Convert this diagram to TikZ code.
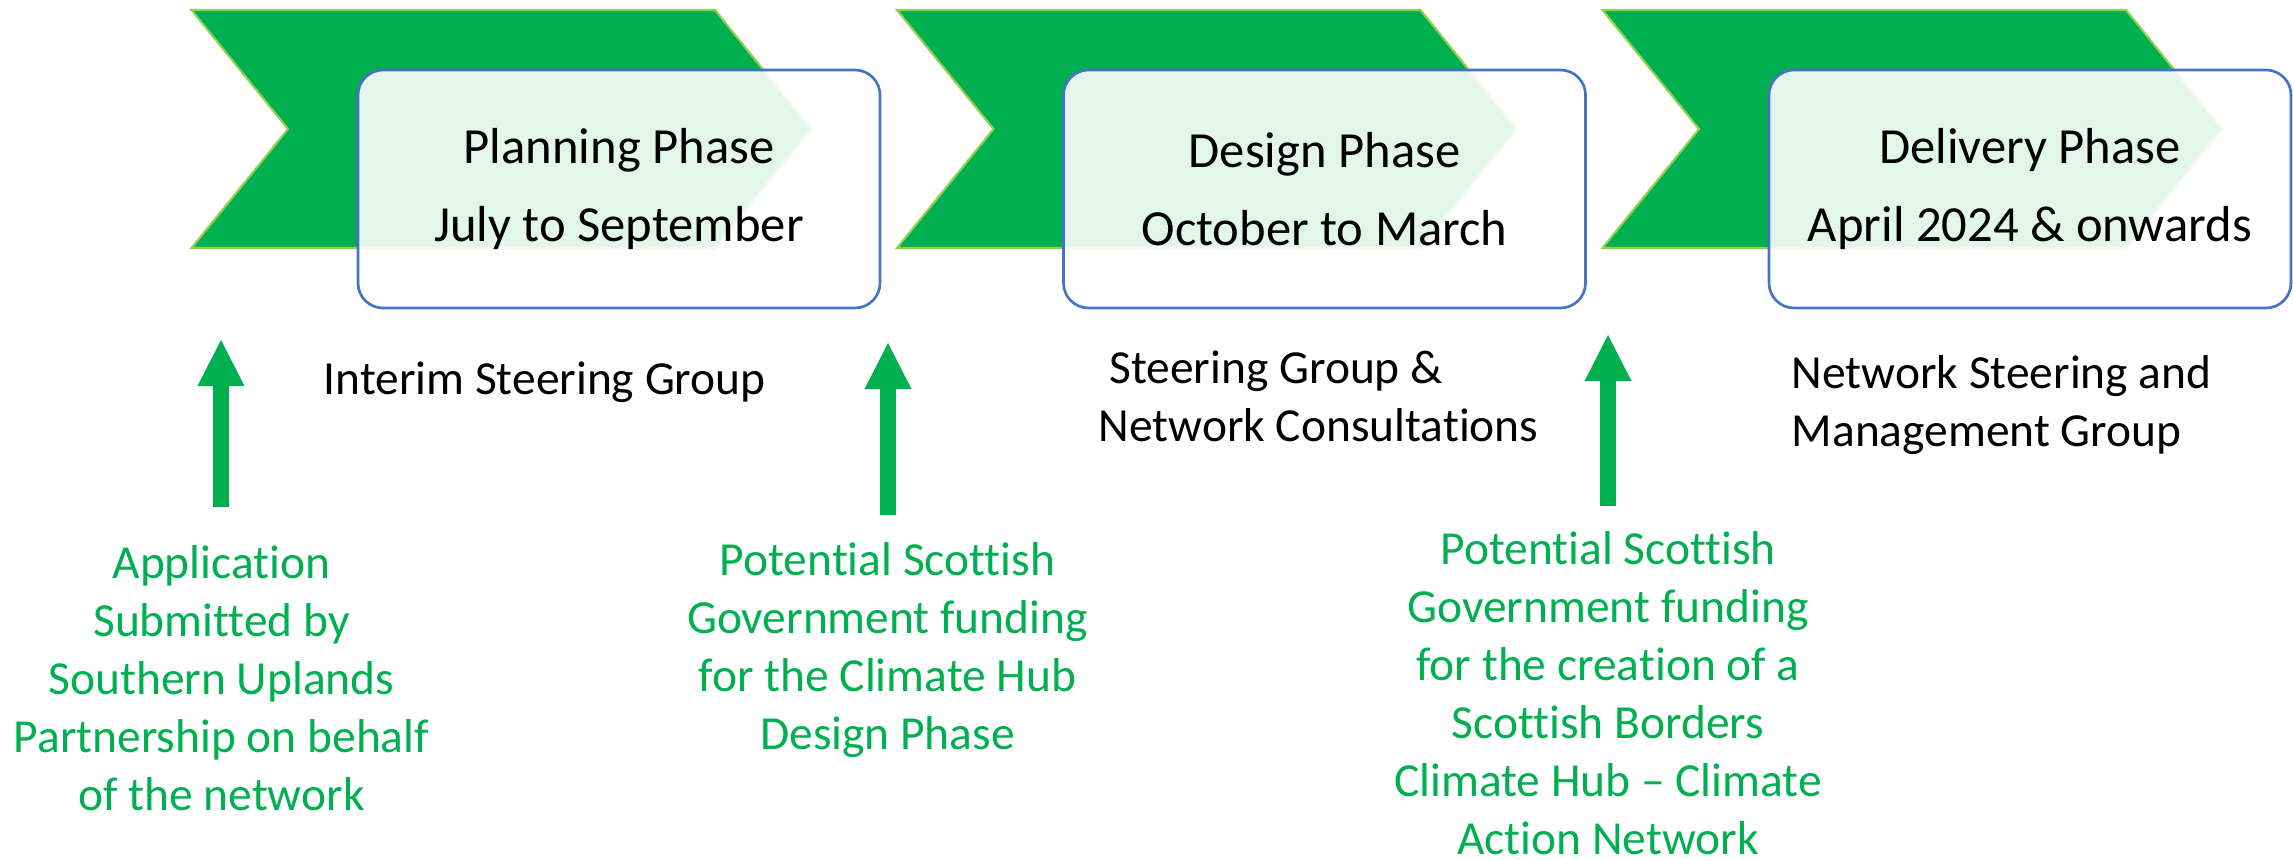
\documentclass[tikz,border=0pt]{standalone}
\usepackage{fontspec}
\setmainfont{Carlito}[Ligatures={TeX,NoCommon}]
\usepackage{xcolor}
\usetikzlibrary{arrows.meta}

\definecolor{phasegreen}{HTML}{00B050}
\definecolor{edgegreen}{HTML}{92D050}
\definecolor{boxblue}{HTML}{4472C4}

\begin{document}
\begin{tikzpicture}[
    chevron/.style={fill=phasegreen, draw=edgegreen, line width=0.6pt},
    phase/.style={rectangle, rounded corners=0.25cm, draw=boxblue, line width=0.75pt, fill=white, fill opacity=0.885, text opacity=1, minimum width=5.22cm, minimum height=2.38cm, align=center, font=\fontsize{14.4}{22}\selectfont},
    group/.style={align=left, inner sep=0pt, font=\fontsize{13.5}{16.5}\selectfont},
    funding/.style={align=center, inner sep=0pt, text=phasegreen, font=\fontsize{13.5}{16.5}\selectfont},
    uparrow/.style={draw=phasegreen, line width=0.16cm, -{Triangle[width=0.47cm, length=0.46cm, line width=0pt]}}
]

\useasboundingbox (0,0) rectangle (22.93,-8.59);

% chevrons behind the boxes
\draw[chevron] (1.915,-0.10) -- ++(5.235,0) -- ++(0.96,-1.19) -- ++(-0.96,-1.19) -- ++(-5.235,0) -- ++(0.965,1.19) -- cycle;
\draw[chevron] (8.970,-0.10) -- ++(5.235,0) -- ++(0.96,-1.19) -- ++(-0.96,-1.19) -- ++(-5.235,0) -- ++(0.965,1.19) -- cycle;
\draw[chevron] (16.025,-0.10) -- ++(5.235,0) -- ++(0.96,-1.19) -- ++(-0.96,-1.19) -- ++(-5.235,0) -- ++(0.965,1.19) -- cycle;

\node[phase] (plan) at (6.19,-1.89) {Planning Phase\\July to September};
\node[phase] (design) at (13.245,-1.89) {Design Phase\\October to March};
\node[phase] (deliver) at (20.30,-1.89) {Delivery Phase\\April 2024 \& onwards};

\node[group, anchor=base west] (interim) at (3.23,-3.94) {Interim Steering Group};
\node[group, anchor=north west] (steering) at (10.98,-3.50) {\ Steering Group \&\\Network Consultations};
\node[group, anchor=north west] (network) at (17.91,-3.55) {Network Steering and\\Management Group};

\node[funding, anchor=north] (apply) at (2.215,-5.45) {Application\\Submitted by\\Southern Uplands\\Partnership on behalf\\of the network};
\node[funding, anchor=north] (designfund) at (8.875,-5.42) {Potential Scottish\\Government funding\\for the Climate Hub\\Design Phase};
\node[funding, anchor=north] (hubfund) at (16.08,-5.31) {Potential Scottish\\Government funding\\for the creation of a\\Scottish Borders\\Climate Hub -- Climate\\Action Network};

% funding arrows
\coordinate (footA) at (2.21,-5.07);
\coordinate (tipA) at (2.21,-3.40);
\coordinate (footB) at (8.88,-5.15);
\coordinate (tipB) at (8.88,-3.43);
\coordinate (footC) at (16.08,-5.06);
\coordinate (tipC) at (16.08,-3.35);

\draw[uparrow] (footA) -- (tipA);
\draw[uparrow] (footB) -- (tipB);
\draw[uparrow] (footC) -- (tipC);

\end{tikzpicture}
\end{document}
